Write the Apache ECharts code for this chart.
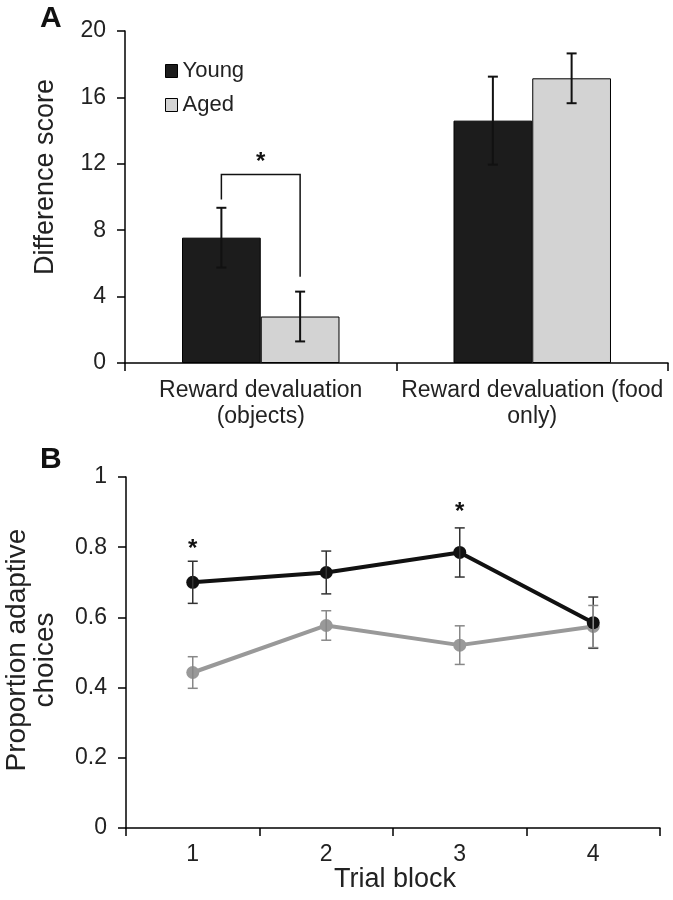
<!DOCTYPE html>
<html>
<head>
<meta charset="utf-8">
<script src="https://cdn.jsdelivr.net/npm/echarts@6/dist/echarts.min.js"></script>
<style>
html,body{margin:0;padding:0;background:#fff;}
#chart{width:673px;height:900px;}
</style>
</head>
<body>
<div id="chart"></div>
<script>
// ---- Panel A data ----
var catsA = ['Reward devaluation\n(objects)', 'Reward devaluation (food\nonly)'];
var youngA = [7.55, 14.6];
var youngAErr = [1.8, 2.65];
var agedA = [2.8, 17.15];
var agedAErr = [1.5, 1.5];
var ticksA = [0, 4, 8, 12, 16, 20];
// significance bracket (category 0): [bar height, left leg end, right leg end]
var bracketA = [11.35, 9.85, 5.2];
var starA = [[0, 12.35]];

// ---- Panel B data ----
var catsB = ['1', '2', '3', '4'];
var youngB = [0.70, 0.728, 0.785, 0.585];
var youngBErr = [0.06, 0.061, 0.07, 0.073];
var agedB = [0.443, 0.577, 0.521, 0.574];
var agedBErr = [0.045, 0.042, 0.055, 0.06];
var ticksB = [0, 0.2, 0.4, 0.6, 0.8, 1];
var starsB = [[0, 0.805], [2, 0.91]];

var FONT = "'Liberation Sans', Arial, sans-serif";
var chart = echarts.init(document.getElementById('chart'), null, {renderer: 'canvas'});

var CAT_GAP = 0.42;
function errRows(vals, errs){ return vals.map(function(v,i){ return [i, v, errs[i]]; }); }

function errBarRender(offset, color, lw, cap){
  return function(params, api){
    var i = api.value(0), m = api.value(1), e = api.value(2);
    var band = api.size([1, 0])[0];
    var bw = offset === 0 ? 0 : band * (1 - CAT_GAP) / 2;
    var c = api.coord([i, m]);
    var cx = c[0] + offset * bw;
    var top = api.coord([i, m + e])[1];
    var bot = api.coord([i, m - e])[1];
    var st = {stroke: color, lineWidth: lw};
    return {type: 'group', children: [
      {type: 'line', shape: {x1: cx, y1: top, x2: cx, y2: bot}, style: st},
      {type: 'line', shape: {x1: cx - cap/2, y1: top, x2: cx + cap/2, y2: top}, style: st},
      {type: 'line', shape: {x1: cx - cap/2, y1: bot, x2: cx + cap/2, y2: bot}, style: st}
    ]};
  };
}

function starRender(params, api){
  var c = api.coord([api.value(0), api.value(1)]);
  return {type: 'text', x: c[0], y: c[1] + 4, style: {text: '*', font: 'bold 24px ' + FONT, fill: '#111', textAlign: 'center', textVerticalAlign: 'middle'}};
}

var axisLabelStyle = {color: '#222', fontSize: 23, fontFamily: FONT};

var option = {
  animation: false,
  backgroundColor: '#fff',
  textStyle: {fontFamily: FONT},
  legend: {
    left: 160, top: 55, orient: 'vertical', itemWidth: 12, itemHeight: 13, itemGap: 12,
    textStyle: {fontSize: 22, color: '#222', fontFamily: FONT},
    selectedMode: false,
    data: [
      {name: 'Young', icon: 'rect', itemStyle: {color: '#1c1c1c', borderColor: '#000', borderWidth: 1}},
      {name: 'Aged', icon: 'rect', itemStyle: {color: '#d3d3d3', borderColor: '#000', borderWidth: 1}}
    ]
  },
  grid: [
    {left: 125, right: 5, top: 31, height: 332},
    {left: 126, right: 13, top: 477, height: 351}
  ],
  xAxis: [
    {type: 'category', gridIndex: 0, data: catsA,
     axisLine: {lineStyle: {color: '#000', width: 1.5}},
     axisTick: {show: true, length: 8, lineStyle: {color: '#000', width: 1.5}},
     axisLabel: Object.assign({margin: 15, interval: 0, lineHeight: 26}, axisLabelStyle)},
    {type: 'category', gridIndex: 1, data: catsB,
     axisLine: {lineStyle: {color: '#000', width: 1.5}},
     axisTick: {show: true, length: 8, lineStyle: {color: '#000', width: 1.5}},
     axisLabel: Object.assign({margin: 15}, axisLabelStyle)}
  ],
  yAxis: [
    {type: 'value', gridIndex: 0, min: ticksA[0], max: ticksA[ticksA.length-1], interval: ticksA[1]-ticksA[0],
     axisLine: {show: true, lineStyle: {color: '#000', width: 1.5}},
     axisTick: {show: true, length: 8, lineStyle: {color: '#000', width: 1.5}},
     splitLine: {show: false},
     axisLabel: Object.assign({margin: 19}, axisLabelStyle)},
    {type: 'value', gridIndex: 1, min: ticksB[0], max: ticksB[ticksB.length-1], interval: 0.2,
     axisLine: {show: true, lineStyle: {color: '#000', width: 1.5}},
     axisTick: {show: true, length: 8, lineStyle: {color: '#000', width: 1.5}},
     splitLine: {show: false},
     axisLabel: Object.assign({margin: 19}, axisLabelStyle)}
  ],
  graphic: [
    {type: 'text', left: 40, top: 4, style: {text: 'A', font: 'bold 30px ' + FONT, fill: '#111'}},
    {type: 'text', left: 40, top: 445, style: {text: 'B', font: 'bold 30px ' + FONT, fill: '#111'}},
    {type: 'text', x: 46, y: 177, rotation: Math.PI/2, style: {text: 'Difference score', font: '27px ' + FONT, fill: '#222', textAlign: 'center', textVerticalAlign: 'middle'}},
    {type: 'text', x: 17, y: 650, rotation: Math.PI/2, style: {text: 'Proportion adaptive', font: '28px ' + FONT, fill: '#222', textAlign: 'center', textVerticalAlign: 'middle'}},
    {type: 'text', x: 45, y: 660, rotation: Math.PI/2, style: {text: 'choices', font: '28px ' + FONT, fill: '#222', textAlign: 'center', textVerticalAlign: 'middle'}},
    {type: 'text', x: 395, y: 880, style: {text: 'Trial block', font: '27px ' + FONT, fill: '#222', textAlign: 'center', textVerticalAlign: 'middle'}}
  ],
  series: [
    {name: 'Young', type: 'bar', xAxisIndex: 0, yAxisIndex: 0, data: youngA, barGap: '0%', barCategoryGap: (CAT_GAP*100) + '%',
     itemStyle: {color: '#1c1c1c', borderColor: '#000', borderWidth: 1}},
    {name: 'Aged', type: 'bar', xAxisIndex: 0, yAxisIndex: 0, data: agedA, barGap: '0%', barCategoryGap: (CAT_GAP*100) + '%',
     itemStyle: {color: '#d3d3d3', borderColor: '#000', borderWidth: 1}},
    {type: 'custom', xAxisIndex: 0, yAxisIndex: 0, data: errRows(youngA, youngAErr), renderItem: errBarRender(-0.5, '#111', 2, 10), z: 5},
    {type: 'custom', xAxisIndex: 0, yAxisIndex: 0, data: errRows(agedA, agedAErr), renderItem: errBarRender(0.5, '#111', 2, 10), z: 5},
    {type: 'custom', xAxisIndex: 0, yAxisIndex: 0, data: [[0, bracketA[0], bracketA[1], bracketA[2]]], z: 5,
     renderItem: function(params, api){
       var i = api.value(0);
       var band = api.size([1, 0])[0];
       var bw = band * (1 - CAT_GAP) / 2;
       var cx = api.coord([i, 0])[0];
       var xl = cx - bw/2, xr = cx + bw/2;
       var yt = api.coord([i, api.value(1)])[1];
       var yl = api.coord([i, api.value(2)])[1];
       var yr = api.coord([i, api.value(3)])[1];
       return {type: 'polyline', shape: {points: [[xl, yl], [xl, yt], [xr, yt], [xr, yr]]}, style: {stroke: '#111', lineWidth: 1.5, fill: null}};
     }},
    {type: 'custom', xAxisIndex: 0, yAxisIndex: 0, data: starA, renderItem: starRender, z: 5},

    {name: 'Aged', type: 'line', xAxisIndex: 1, yAxisIndex: 1, data: agedB, symbol: 'circle', symbolSize: 13,
     lineStyle: {color: '#999', width: 4}, itemStyle: {color: '#999'}, z: 3},
    {name: 'Young', type: 'line', xAxisIndex: 1, yAxisIndex: 1, data: youngB, symbol: 'circle', symbolSize: 13,
     lineStyle: {color: '#111', width: 4}, itemStyle: {color: '#111'}, z: 4},
    {type: 'custom', xAxisIndex: 1, yAxisIndex: 1, data: errRows(youngB, youngBErr), renderItem: errBarRender(0, '#333', 1.5, 10), z: 6},
    {type: 'custom', xAxisIndex: 1, yAxisIndex: 1, data: errRows(agedB, agedBErr), renderItem: errBarRender(0, '#888', 1.5, 10), z: 6},
    {type: 'custom', xAxisIndex: 1, yAxisIndex: 1, data: starsB, renderItem: starRender, z: 6}
  ]
};
chart.setOption(option);
</script>
</body>
</html>
